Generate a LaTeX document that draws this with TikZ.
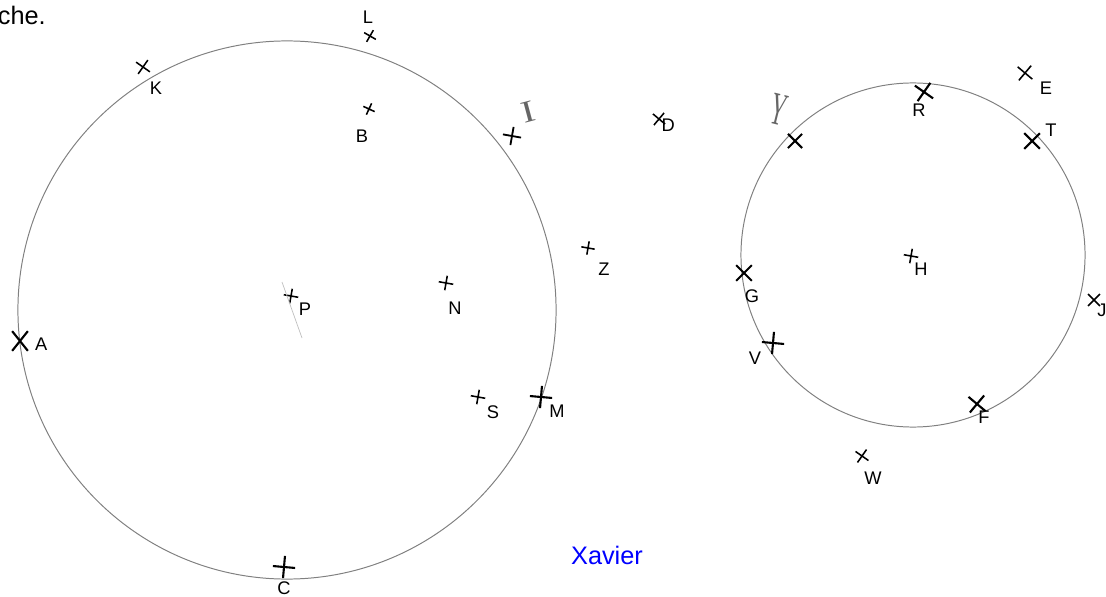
\documentclass[tikz,border=0pt]{standalone}
\usepackage{fontspec}
\setmainfont{Liberation Sans}
\newfontfamily\pencilfont{Liberation Serif}
\usetikzlibrary{positioning, shapes.misc}

\begin{document}
\begin{tikzpicture}[
    x=0.025cm, y=-0.025cm,
    circ/.style={draw=black!50, line width=0.7pt},
    xmark/.style={
        cross out, draw=black, line width=1.1pt,
        minimum size=2.2mm, inner sep=0pt
    },
    bigmark/.style={xmark, line width=1.5pt, minimum size=3.4mm},
    plusmark/.style={xmark, rotate=35},
    lbl/.style={font=\fontsize{13}{15}\selectfont, inner sep=0pt, text=black},
    pencil/.style={font=\pencilfont\fontsize{22}{22}\selectfont, text=black!60, inner sep=0pt},
    caption/.style={font=\fontsize{18}{20}\selectfont, inner sep=0pt},
    faint/.style={draw=black!25, line width=0.5pt}
]
\useasboundingbox (0,0) rectangle (1106,597);

% ---------------- Captions ----------------
\node[caption, anchor=base east] (head) at (46,25) {che.};
\node[caption, anchor=base, text={rgb,255:red,0;green,0;blue,255}] (author) at (607,564) {Xavier};

% ---------------- Big circle ----------------
\coordinate (bigc) at (287,310);
\draw[circ] (bigc) circle[radius=6.725cm];
\node[pencil, rotate=15, xscale=1.3] (circI) at (528,112) {I};

\node[xmark, rotate=15, minimum size=2mm] (xL) at (370,36) {};
\node[lbl, above=3.1mm of xL.center, xshift=-0.5mm] (L) {L};
\node[xmark, rotate=10, minimum size=2.6mm] (xK) at (143,67) {};
\node[lbl, below=3.6mm of xK.center, xshift=3.25mm] (K) {K};
\node[xmark, rotate=20, minimum size=1.8mm] (xB) at (369,109) {};
\node[lbl, below=5.1mm of xB.center, xshift=-1.75mm] (B) {B};
\node[plusmark, minimum size=2.8mm, line width=1.3pt] (xI) at (512,136) {};
\node[xmark, rotate=5, minimum size=2.4mm] (xD) at (659,119) {};
\node[lbl, right=0.6mm of xD.center, yshift=-1.5mm] (D) {D};
\node[plusmark, minimum size=2mm] (xZ) at (588,248) {};
\node[lbl, below=3.6mm of xZ.center, xshift=4mm] (Z) {Z};
\node[plusmark] (xP) at (291,296) {};
\node[lbl, below=1.6mm of xP.center, xshift=3.5mm] (P) {P};
\node[plusmark] (xN) at (446,283) {};
\node[lbl, below=4.6mm of xN.center, xshift=2.25mm] (N) {N};
\node[bigmark, minimum height=4.4mm] (xA) at (20,341) {};
\node[lbl, right=3.7mm of xA.center, yshift=-0.75mm] (A) {A};
\node[plusmark] (xS) at (478,397) {};
\node[lbl, below=2.1mm of xS.center, xshift=3.75mm] (S) {S};
\node[bigmark, rotate=40] (xM) at (541,397) {};
\node[lbl, below=1.86mm of xM.center, xshift=4mm] (M) {M};
\node[bigmark, rotate=40] (xC) at (284,567) {};
\node[lbl, below=3.5mm of xC.center] (C) {C};

% faint pencil stroke through P
\coordinate (pA) at (282,282);
\coordinate (pB) at (302,338);
\draw[faint] (pA) -- (pB);

% ---------------- Small circle ----------------
\coordinate (smallc) at (913,255);
\draw[circ] (smallc) circle[radius=4.3cm];
\node[pencil, rotate=-14, xscale=0.7, yscale=1.5] (circY) at (779,110) {Y};

\node[bigmark, minimum size=3mm] (xU) at (795,141) {};
\node[bigmark, rotate=10] (xR) at (924,92) {};
\node[lbl, below=2.86mm of xR.center, xshift=-1.25mm] (R) {R};
\node[xmark, rotate=5, minimum size=3mm] (xE) at (1025,73) {};
\node[lbl, below=2.1mm of xE.center, xshift=5.25mm] (E) {E};
\node[bigmark] (xT) at (1032,141) {};
\node[lbl, above=1.1mm of xT.center, xshift=4.75mm] (T) {T};
\node[plusmark] (xH) at (911,256) {};
\node[lbl, below=1.6mm of xH.center, xshift=2.5mm] (H) {H};
\node[bigmark] (xG) at (744,273) {};
\node[lbl, below=4.1mm of xG.center, xshift=2mm] (G) {G};
\node[xmark, minimum size=2.6mm] (xJ) at (1094,300) {};
\node[lbl, below=0.86mm of xJ.center, xshift=2mm] (J) {J};
\node[bigmark, rotate=40] (xV) at (773,343) {};
\node[lbl, below=2.1mm of xV.center, xshift=-4.5mm] (V) {V};
\node[bigmark, rotate=5] (xF) at (977,404) {};
\node[lbl, below=1.6mm of xF.center, xshift=1.75mm] (F) {F};
\node[xmark, rotate=10, minimum size=2.4mm] (xW) at (862,456) {};
\node[lbl, below=3.9mm of xW.center, xshift=2.75mm] (W) {W};

\end{tikzpicture}
\end{document}
